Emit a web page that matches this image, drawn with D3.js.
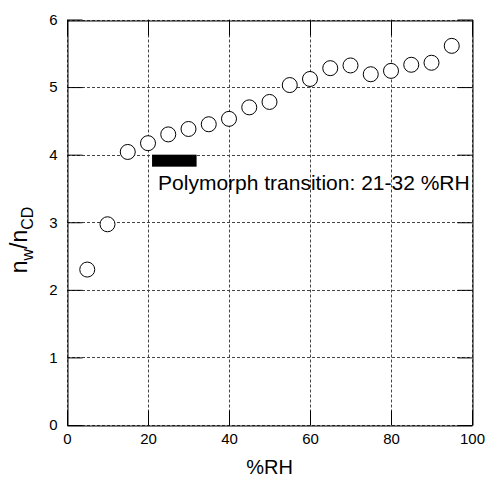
<!DOCTYPE html>
<html>
<head>
<meta charset="utf-8">
<script src="https://cdn.jsdelivr.net/npm/d3@7"></script>
<style>
  html, body { margin: 0; padding: 0; background: #fff; }
  svg { display: block; font-family: "Liberation Sans", Arial, Helvetica, sans-serif; }
</style>
</head>
<body>
<svg id="chart" width="486" height="478"></svg>
<script>
// Water uptake ratio vs relative humidity
const rh = [5, 10, 15, 20, 25, 30, 35, 40, 45, 50, 55, 60, 65, 70, 75, 80, 85, 90, 95];
const ratio = [2.30, 2.97, 4.04, 4.17, 4.30, 4.38, 4.45, 4.53, 4.70, 4.78, 5.03, 5.12, 5.28, 5.32, 5.19, 5.24, 5.33, 5.36, 5.61];
const xTicks = [0, 20, 40, 60, 80, 100];
const yTicks = [0, 1, 2, 3, 4, 5, 6];
const transitionRange = [21, 32];
const transitionLevel = 4;
const transitionLabel = "Polymorph transition: 21-32 %RH";

const W = 486, H = 478;
const margin = { top: 19.5, right: 14, bottom: 53, left: 67 };
const svg = d3.select("#chart");

const x = d3.scaleLinear().domain([0, 100]).range([margin.left, W - margin.right]);
const y = d3.scaleLinear().domain([0, 6]).range([H - margin.bottom, margin.top]);

const x0 = x.range()[0], x1 = x.range()[1];
const y0 = y.range()[0], y1 = y.range()[1];
const tickLen = 15;

// dashed grid
const grid = svg.append("g").attr("stroke", "#444").attr("stroke-width", 1)
  .attr("stroke-dasharray", "3,2").attr("fill", "none");
xTicks.forEach(t => grid.append("line")
  .attr("x1", Math.round(x(t)) + 0.5).attr("x2", Math.round(x(t)) + 0.5)
  .attr("y1", y1).attr("y2", y0));
yTicks.forEach(t => grid.append("line")
  .attr("x1", x0).attr("x2", x1)
  .attr("y1", Math.round(y(t)) + 0.5).attr("y2", Math.round(y(t)) + 0.5));

// axes with inward ticks
const fmt = d3.format("d");
const xAxis = svg.append("g").attr("transform", `translate(0,${Math.round(y0) + 0.5})`)
  .call(d3.axisBottom(x).tickValues(xTicks).tickFormat(fmt).tickSizeInner(-tickLen).tickSizeOuter(0));
const yAxis = svg.append("g").attr("transform", `translate(${Math.round(x0) + 0.5},0)`)
  .call(d3.axisLeft(y).tickValues(yTicks).tickFormat(fmt).tickSizeInner(-tickLen).tickSizeOuter(0));
const xTop = svg.append("g").attr("transform", `translate(0,${Math.round(y1) + 0.5})`)
  .call(d3.axisTop(x).tickValues(xTicks).tickSizeInner(-tickLen).tickSizeOuter(0).tickFormat(""));
const yRight = svg.append("g").attr("transform", `translate(${Math.round(x1) + 0.5},0)`)
  .call(d3.axisRight(y).tickValues(yTicks).tickSizeInner(-tickLen).tickSizeOuter(0).tickFormat(""));

[xAxis, yAxis, xTop, yRight].forEach(g => {
  g.select(".domain").attr("stroke", "#000").attr("stroke-width", 1);
  g.selectAll(".tick line").attr("stroke", "#000").attr("stroke-width", 1);
  g.selectAll(".tick text").attr("fill", "#000").attr("font-size", 15)
    .attr("font-family", "Liberation Sans, Arial, sans-serif");
});
xAxis.selectAll(".tick text").attr("dy", "0.71em").attr("y", 8);
yAxis.selectAll(".tick text").attr("x", -10);

// data points
svg.append("g").selectAll("circle").data(rh).join("circle")
  .attr("cx", (d) => x(d))
  .attr("cy", (d, i) => y(ratio[i]))
  .attr("r", 7.5)
  .attr("fill", "#fff").attr("stroke", "#000").attr("stroke-width", 1);

// polymorph transition bar and label
svg.append("rect")
  .attr("x", x(transitionRange[0])).attr("width", x(transitionRange[1]) - x(transitionRange[0]))
  .attr("y", y(transitionLevel)).attr("height", 12)
  .attr("fill", "#000");
svg.append("text")
  .attr("x", x(transitionRange[0]) + 6).attr("y", y(transitionLevel) + 35)
  .attr("font-size", 21).attr("fill", "#000")
  .text(transitionLabel);

// axis titles
svg.append("text")
  .attr("x", (x0 + x1) / 2).attr("y", 474)
  .attr("text-anchor", "middle").attr("font-size", 20).attr("fill", "#000")
  .text("%RH");

const yt = svg.append("text")
  .attr("transform", "translate(27,240) rotate(-90)")
  .attr("text-anchor", "middle").attr("font-size", 23).attr("fill", "#000");
yt.append("tspan").text("n");
yt.append("tspan").attr("font-size", 16).attr("dy", 6).text("w");
yt.append("tspan").attr("dy", -6).text("/n");
yt.append("tspan").attr("font-size", 16).attr("dy", 6).text("CD");
</script>
</body>
</html>
